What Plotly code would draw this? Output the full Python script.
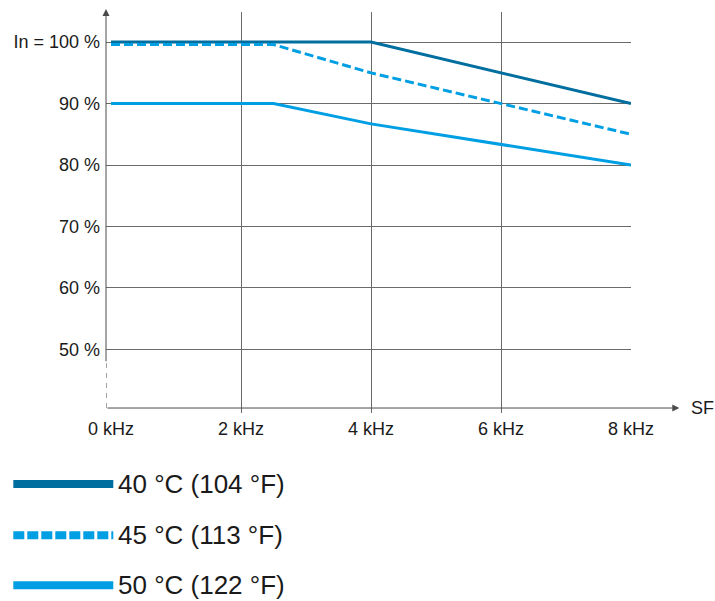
import plotly.graph_objects as go

# ---------------- data ----------------
freq_40 = [0, 4, 8]
load_40 = [100, 100, 90]
freq_45 = [0, 2.5, 4, 8]
load_45 = [99.6, 99.6, 95, 85]
freq_50 = [0, 2.5, 4, 8]
load_50 = [90, 90, 86.7, 80]

series_names = ["40 °C (104 °F)", "45 °C (113 °F)", "50 °C (122 °F)"]
series_colors = ["#006E9E", "#009FE3", "#009FE3"]
series_dash = ["solid", "9px,4px", "solid"]
legend_dash = ["solid", "11px,3px", "solid"]

x_tickvals = [0, 2, 4, 6, 8]
x_ticktext = ["0 kHz", "2 kHz", "4 kHz", "6 kHz", "8 kHz"]
y_tickvals = [50, 60, 70, 80, 90, 100]
y_ticktext = ["50 %", "60 %", "70 %", "80 %", "90 %", "In = 100 %"]
x_axis_label = "SF"

# ---------------- geometry ----------------
W, H = 715, 601
L, R = 105.7, 630.7          # plot area left/right (window px)
T, B = 12.2, 412.8           # plot area top/bottom (window px)
X_RANGE = [-5 / 65, 8]
Y_RANGE = [39.66, 104.9]
AXIS_Y = 40.47               # y value of the drawn x-axis line
BREAK_Y = 47.77              # where the y axis becomes dashed

def px_x(p):
    return (p - L) / (R - L)

def px_y(p):
    return (B - p) / (B - T)

TXT = "#1a1a1a"
GRID = "#6a6a6a"
AXIS = "#4a4a4a"
FONT = "Liberation Sans, Arial, sans-serif"
TICK_SIZE = 18

fig = go.Figure()
for xs, ys, name, col, dash in zip(
    [freq_40, freq_45, freq_50], [load_40, load_45, load_50],
    series_names, series_colors, series_dash
):
    fig.add_trace(go.Scatter(
        x=xs, y=ys, mode="lines", name=name,
        line=dict(color=col, width=3, dash=dash),
        cliponaxis=False, hoverinfo="skip", showlegend=False,
    ))

fig.update_layout(
    width=W, height=H,
    margin=dict(l=L, r=W - R, t=T, b=H - B, pad=0),
    paper_bgcolor="white", plot_bgcolor="white",
    font=dict(family=FONT, color=TXT, size=TICK_SIZE),
    showlegend=False,
    xaxis=dict(
        range=X_RANGE, tickmode="array", tickvals=x_tickvals, ticktext=x_ticktext,
        showgrid=True, gridcolor=GRID, gridwidth=1,
        zeroline=True, zerolinecolor="rgba(0,0,0,0)",
        showline=False, ticks="", ticklabelstandoff=3,
        tickfont=dict(size=TICK_SIZE, color=TXT, family=FONT), fixedrange=True,
    ),
    yaxis=dict(
        range=Y_RANGE, tickmode="array", tickvals=y_tickvals, ticktext=y_ticktext,
        showgrid=True, gridcolor=GRID, gridwidth=1,
        zeroline=False, showline=False, ticks="", ticklabelstandoff=5,
        tickfont=dict(size=TICK_SIZE, color=TXT, family=FONT), fixedrange=True,
    ),
)

# y axis: solid part with arrow
fig.add_annotation(
    x=X_RANGE[0], xref="x", y=px_y(9.3), yref="paper",
    ax=0, ay=363 - 9.3, axref="pixel", ayref="pixel",
    text="", showarrow=True, arrowhead=2, arrowsize=1.4, arrowwidth=1,
    arrowcolor=AXIS,
)
# y axis: dashed (broken) part
fig.add_shape(type="line", xref="x", yref="y",
              x0=X_RANGE[0], x1=X_RANGE[0], y0=AXIS_Y, y1=BREAK_Y,
              line=dict(color=AXIS, width=1, dash="5px,5px"))
# x axis with arrow
fig.add_annotation(
    x=px_x(679), xref="paper", y=AXIS_Y, yref="y",
    ax=-(679 - L), ay=0, axref="pixel", ayref="pixel",
    text="", showarrow=True, arrowhead=2, arrowsize=1.4, arrowwidth=1,
    arrowcolor=AXIS,
)
fig.add_annotation(
    x=px_x(689), xref="paper", y=AXIS_Y, yref="y",
    text=x_axis_label, showarrow=False, xanchor="left", yanchor="middle",
    font=dict(size=TICK_SIZE, color=TXT, family=FONT),
)

# custom legend
row_px = [483.7, 535, 585]
for name, col, dash, ry in zip(series_names, series_colors, legend_dash, row_px):
    fig.add_shape(type="line", xref="paper", yref="paper",
                  x0=px_x(13), x1=px_x(113), y0=px_y(ry), y1=px_y(ry),
                  line=dict(color=col, width=8, dash=dash))
    fig.add_annotation(
        x=px_x(116), xref="paper", y=px_y(ry), yref="paper",
        text=name, showarrow=False, xanchor="left", yanchor="middle",
        font=dict(size=26, color=TXT, family=FONT),
    )

fig.write_html(
    "out.html",
    config={"displayModeBar": False, "staticPlot": True},
    post_script="document.body.style.margin='0';document.body.style.overflow='hidden';",
)
